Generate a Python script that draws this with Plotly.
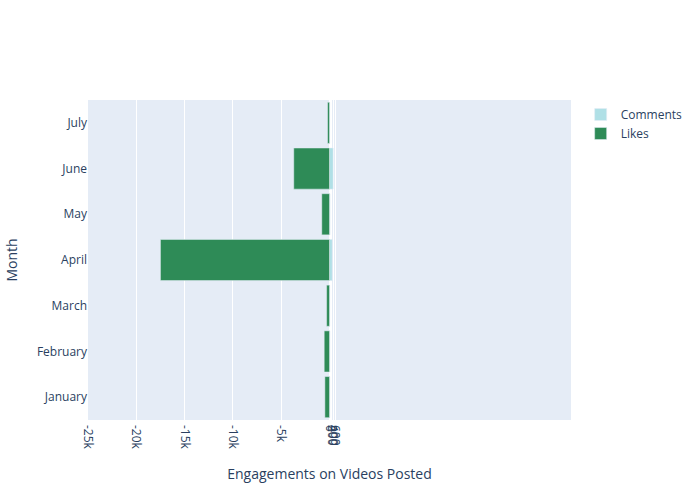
import plotly.graph_objects as go

months = ["January", "February", "March", "April", "May", "June", "July"]
likes = [480, 550, 300, 17500, 800, 3700, 200]
comments = [40, 50, 30, 280, 60, 380, 20]
tick_vals = [-25000, -20000, -15000, -10000, -5000, 0, 200, 400, 600]
tick_text = ["-25k", "-20k", "-15k", "-10k", "-5k", "0", "200", "400", "600"]

fig = go.Figure()
fig.add_trace(go.Bar(y=months, x=comments, orientation="h", name="Comments",
                     marker_color="powderblue"))
fig.add_trace(go.Bar(y=months, x=[-v for v in likes], orientation="h", name="Likes",
                     marker_color="seagreen"))
fig.update_layout(
    width=700, height=500,
    barmode="overlay",
    bargap=0.1,
    legend=dict(traceorder="normal"),
    xaxis=dict(range=[-25000, 25000], tickvals=tick_vals, ticktext=tick_text,
               tickangle=90, ticklabelstandoff=4,
               title=dict(text="Engagements on Videos Posted", standoff=20)),
    yaxis=dict(title=dict(text="Month")),
)
fig.write_html("out.html", config={"displayModeBar": False},
               post_script="document.body.style.margin='0px';")
